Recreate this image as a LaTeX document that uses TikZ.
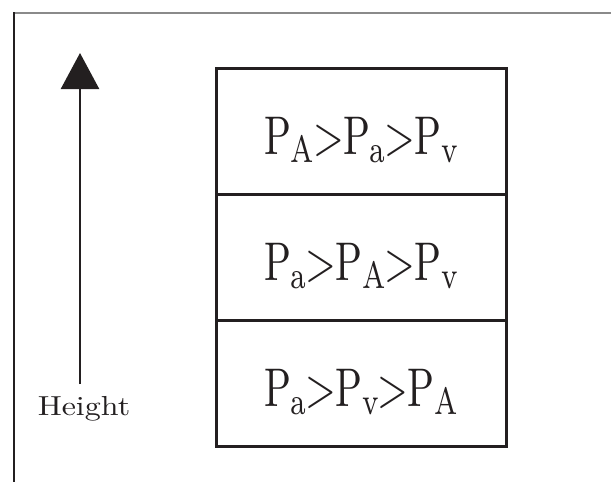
\documentclass[tikz,border=0pt]{standalone}
\usepackage{fontspec}
\usetikzlibrary{arrows.meta}
\definecolor{ink}{HTML}{231F20}
\definecolor{rule}{HTML}{8A8A8A}
\newcommand\PPsub[1]{P\kern-0.1pt\raisebox{-1.65pt}{\fontsize{7}{7}\selectfont #1}}
\newcommand\PRow[1]{\scalebox{3.95}[5.45]{\fontsize{10}{10}\selectfont #1}}
\tikzset{
  rowbox/.style={draw=ink, line width=3pt, minimum width=290pt, minimum height=126pt, inner sep=0pt},
  rowtext/.style={anchor=base, inner sep=0pt, text=ink},
  axis/.style={draw=ink, line width=2.5pt, -{Triangle[length=36pt,width=38pt]}}
}
\begin{document}
\begin{tikzpicture}[x=1pt,y=-1pt]
\useasboundingbox (0,0) rectangle (611,482);
\fill[white] (0,0) rectangle (611,482);
% frame lines
\draw[rule, line width=2pt] (14,13) -- (611,13);
\draw[ink, line width=1.2pt] (14,12) -- (14,482);
% boxes
\node[rowbox] (r1) at (361,131.5) {};
\node[rowbox] (r2) at (361,257) {};
\node[rowbox] (r3) at (361,383) {};
% texts
\node[rowtext] (t1) at (361,154) {\PRow{\PPsub{A}\kern-0.2pt>\kern-0.2pt\PPsub{a}\kern-0.2pt>\kern-0.2pt\PPsub{v}}};
\node[rowtext] (t2) at (361,280) {\PRow{\PPsub{a}\kern-0.2pt>\kern-0.2pt\PPsub{A}\kern-0.2pt>\kern-0.2pt\PPsub{v}}};
\node[rowtext] (t3) at (361,406) {\PRow{\PPsub{a}\kern-0.2pt>\kern-0.2pt\PPsub{v}\kern-0.2pt>\kern-0.2pt\PPsub{A}}};
% axis
\coordinate (abot) at (80,384);
\coordinate (atop) at (80,53);
\draw[axis] (abot) -- (atop);
\node[anchor=base, inner sep=0pt, text=ink] (h) at (84,415) {\scalebox{3.2}[2.75]{\fontsize{10}{10}\selectfont Height}};
\end{tikzpicture}
\end{document}
